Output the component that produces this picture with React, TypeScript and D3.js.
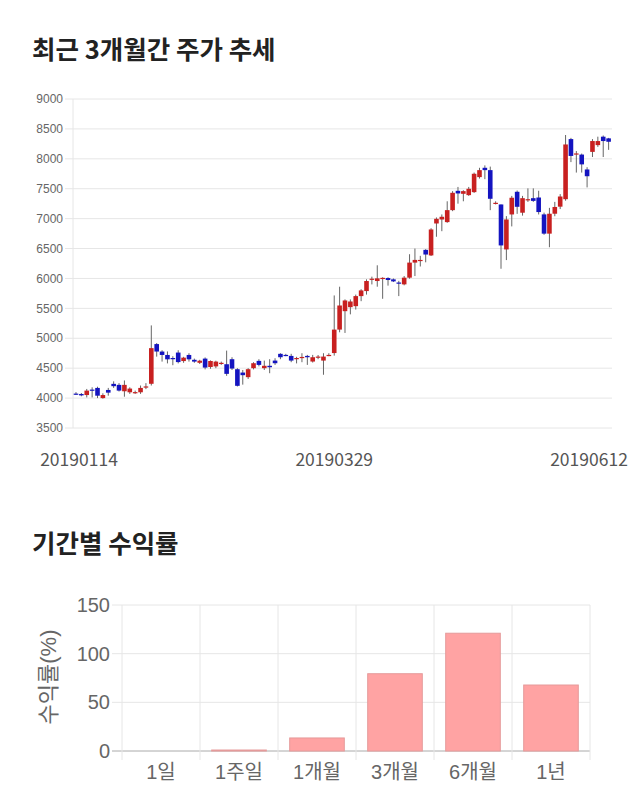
import React from "react";
import * as d3 from "d3";

// ---- candlestick data (3 months of daily prices) ----
const opens = [
  4075, 4068, 4051, 4142, 4170, 4000, 4136, 4238, 4221, 4114,
  4097, 4097, 4097, 4190, 4239, 4903, 4778, 4721, 4670, 4761,
  4619, 4721, 4640, 4590, 4660, 4520, 4530, 4575, 4566, 4650,
  4483, 4427, 4350, 4500, 4622, 4500, 4540, 4627, 4740, 4722,
  4705, 4666, 4683, 4705, 4611, 4688, 4627, 4715, 4753, 5145,
  5453, 5520, 5537, 5705, 5789, 5990, 5957, 6007, 6007, 5985,
  5932, 5901, 6013, 6265, 6305, 6478, 6385, 6919, 6986, 6942,
  7142, 7465, 7415, 7393, 7443, 7694, 7850, 7811, 7260, 7237,
  6485, 7070, 7449, 7099, 7320, 7342, 7353, 7071, 6749, 7082,
  7200, 7325, 8330, 8085, 8071, 7822, 8116, 8229, 8370, 8342,
];
const highs = [
  4100, 4085, 4153, 4180, 4190, 4080, 4170, 4280, 4250, 4295,
  4180, 4125, 4210, 4250, 5215, 4920, 4800, 4780, 4700, 4800,
  4690, 4750, 4660, 4640, 4680, 4630, 4625, 4610, 4794, 4683,
  4500, 4470, 4500, 4600, 4650, 4627, 4650, 4666, 4750, 4740,
  4740, 4690, 4750, 4722, 4722, 4720, 4750, 4750, 5716, 5862,
  5650, 5650, 5730, 5820, 5985, 6030, 6220, 6020, 6020, 6000,
  5960, 6040, 6405, 6500, 6378, 6490, 6840, 7020, 7070, 7290,
  7460, 7530, 7475, 7530, 7770, 7850, 7890, 7870, 7290, 7237,
  7042, 7380, 7470, 7380, 7506, 7506, 7466, 7100, 7180, 7280,
  7410, 8398, 8350, 8130, 8088, 7860, 8330, 8370, 8390, 8350,
];
const lows = [
  4055, 4030, 4011, 4011, 4000, 3990, 4040, 4170, 4110, 4023,
  4070, 4070, 4070, 4150, 4210, 4693, 4610, 4580, 4550, 4580,
  4590, 4610, 4590, 4570, 4480, 4490, 4500, 4555, 4372, 4470,
  4194, 4225, 4320, 4480, 4530, 4470, 4416, 4555, 4650, 4700,
  4600, 4580, 4600, 4555, 4594, 4650, 4390, 4700, 4710, 5100,
  5089, 5400, 5480, 5620, 5730, 5900, 5862, 5660, 5880, 5940,
  5705, 5885, 5996, 6040, 6200, 6270, 6375, 6697, 6790, 6930,
  7125, 7250, 7290, 7380, 7430, 7670, 7660, 7142, 7237, 6162,
  6307, 6870, 7080, 7050, 7280, 7280, 7070, 6730, 6522, 7040,
  7160, 7300, 7945, 7770, 7770, 7522, 8030, 8200, 8030, 8150,
];
const closes = [
  4068, 4045, 4125, 4125, 4040, 4051, 4091, 4199, 4125, 4221,
  4159, 4100, 4170, 4195, 4835, 4778, 4721, 4648, 4662, 4602,
  4676, 4648, 4610, 4625, 4510, 4620, 4610, 4590, 4405, 4494,
  4205, 4383, 4483, 4583, 4555, 4540, 4516, 4583, 4683, 4705,
  4627, 4670, 4688, 4683, 4683, 4694, 4694, 4722, 5145, 5548,
  5632, 5615, 5705, 5800, 5957, 5996, 6002, 6010, 5974, 5951,
  5929, 6013, 6265, 6310, 6310, 6400, 6819, 6997, 7031, 7142,
  7432, 7421, 7460, 7499, 7750, 7811, 7811, 7332, 7265, 6552,
  6986, 7349, 7198, 7342, 7325, 7297, 7110, 6749, 7082, 7195,
  7370, 8240, 8048, 8090, 7907, 7709, 8297, 8297, 8297, 8285,
];
const dateLabels = ["20190114", "20190329", "20190612"];
const dateLabelIndex = [0, 48, 99];
const priceTicks = [3500, 4000, 4500, 5000, 5500, 6000, 6500, 7000, 7500, 8000, 8500, 9000];

// ---- period returns ----
const periods = ["1일", "1주일", "1개월", "3개월", "6개월", "1년"];
const returns = [0, 1.0, 13.4, 79.4, 121.0, 67.8];
const returnTicks = [0, 50, 100, 150];

const UP = "#c82020";
const DOWN = "#1414c0";
const GRID = "#e6e6e6";
const KR = "'Noto Sans CJK KR', 'Noto Sans', sans-serif";
const LAT = "'Liberation Sans', Arial, 'Noto Sans CJK KR', sans-serif";

export default function App() {
  // candlestick scales
  const idx = opens.map((_, i) => i);
  const x = d3.scaleBand<number>().domain(idx).range([73.3, 611.3]).padding(0);
  const y = d3.scaleLinear().domain([3500, 9000]).range([428, 99]);
  const cx = (i: number) => (x(i) as number) + x.bandwidth() / 2;
  const bodyW = 4.6;

  // bar scales
  const bx = d3.scaleBand<string>().domain(periods).range([122, 590]).paddingInner(0).paddingOuter(0);
  const by = d3.scaleLinear().domain([0, 150]).range([751, 605]);
  const barW = bx.bandwidth() * 0.7;

  const labelHalf = 39;

  return (
    <svg width={640} height={810} style={{ position: "absolute", left: 0, top: 0, background: "#fff" }}>
      <text x={32} y={59} fontFamily={KR} fontWeight={700} fontSize={25.5} fill="#222">
        최근 3개월간 주가 추세
      </text>

      {/* price grid */}
      {priceTicks.map((t) => (
        <g key={t}>
          <line x1={65} x2={612} y1={y(t)} y2={y(t)} stroke={GRID} strokeWidth={1} />
          <text x={63} y={y(t)} dy="0.35em" textAnchor="end" fontFamily={LAT} fontSize={12} fill="#666">
            {t}
          </text>
        </g>
      ))}
      <line x1={73} x2={73} y1={y(9000)} y2={y(3500)} stroke={GRID} strokeWidth={1} />

      {/* candles */}
      {idx.map((i) => {
        const o = opens[i], c = closes[i], h = highs[i], l = lows[i];
        const col = c >= o ? UP : DOWN;
        const top = y(Math.max(o, c));
        const bot = y(Math.min(o, c));
        return (
          <g key={i}>
            <line x1={cx(i)} x2={cx(i)} y1={y(h)} y2={y(l)} stroke="#666" strokeWidth={1} />
            <rect x={cx(i) - bodyW / 2} y={top} width={bodyW} height={Math.max(1.2, bot - top)} fill={col} />
          </g>
        );
      })}

      {dateLabels.map((d, k) => {
        const px = Math.min(Math.max(cx(dateLabelIndex[k]), 40 + labelHalf), 628 - labelHalf);
        return (
          <text key={d} x={px} y={466} textAnchor="middle" fontFamily={KR} fontSize={17.5} fill="#555">
            {d}
          </text>
        );
      })}

      <text x={32} y={553} fontFamily={KR} fontWeight={700} fontSize={25.5} fill="#222">
        기간별 수익률
      </text>

      {/* bar grid */}
      {returnTicks.map((t) => (
        <g key={t}>
          <line x1={112} x2={590} y1={by(t)} y2={by(t)} stroke={t === 0 ? "#aaa" : GRID} strokeWidth={1} />
          <text x={110} y={by(t)} dy="0.35em" textAnchor="end" fontFamily={LAT} fontSize={20} fill="#666">
            {t}
          </text>
        </g>
      ))}
      {d3.range(periods.length + 1).map((k) => {
        const gx = 122 + k * bx.bandwidth();
        return <line key={k} x1={gx} x2={gx} y1={by(150)} y2={760} stroke={GRID} strokeWidth={1} />;
      })}

      {periods.map((p, k) => {
        const v = returns[k];
        const bxc = (bx(p) as number) + bx.bandwidth() / 2;
        return (
          <g key={p}>
            {v > 0 && (
              <rect
                x={bxc - barW / 2}
                y={by(v)}
                width={barW}
                height={by(0) - by(v)}
                fill="#ffa3a3"
                stroke="#e59a9a"
                strokeWidth={1}
              />
            )}
            <text x={bxc} y={779} textAnchor="middle" fontFamily={LAT} fontSize={20} fill="#666">
              {p}
            </text>
          </g>
        );
      })}

      <text
        transform={`translate(48,677) rotate(-90)`}
        textAnchor="middle"
        dy="0.35em"
        fontFamily={LAT}
        fontSize={22}
        fill="#666"
      >
        수익률(%)
      </text>
    </svg>
  );
}
